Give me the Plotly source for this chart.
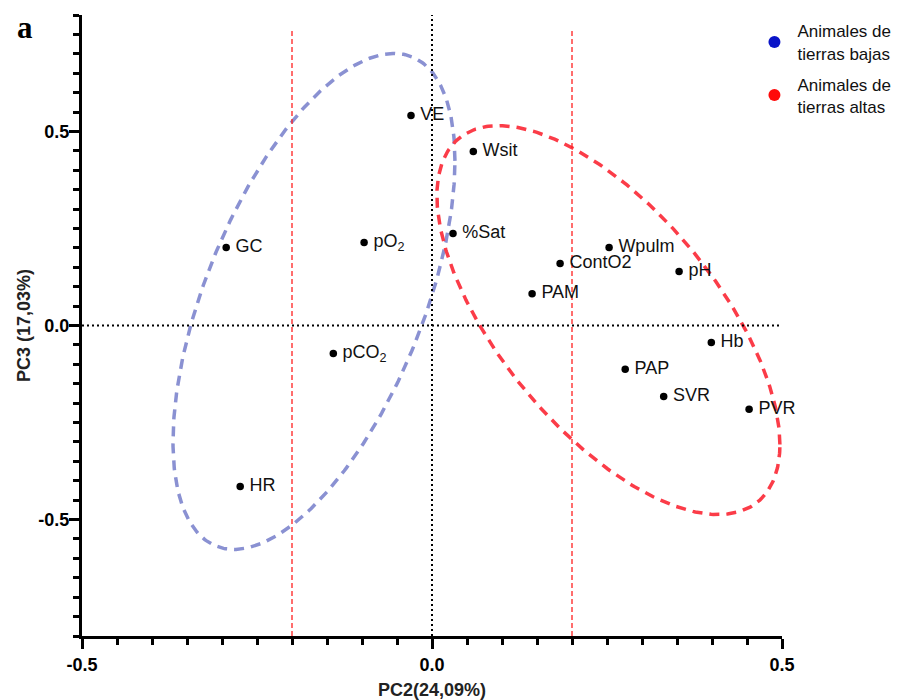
import numpy as np
import plotly.graph_objects as go

# Variable loadings (PC2, PC3)
labels = ["VE", "Wsit", "GC", "pO<sub>2</sub>", "%Sat", "Wpulm", "ContO2", "pH", "PAM",
          "Hb", "pCO<sub>2</sub>", "PAP", "SVR", "PVR", "HR"]
pc2 = [-0.030, 0.059, -0.294, -0.097, 0.030, 0.253, 0.183, 0.353, 0.143,
       0.399, -0.141, 0.276, 0.331, 0.453, -0.274]
pc3 = [0.541, 0.448, 0.201, 0.214, 0.237, 0.201, 0.160, 0.139, 0.082,
       -0.044, -0.072, -0.113, -0.183, -0.216, -0.415]

# Group ellipses: centre, half-extents, correlation
groups = ["Animales de<br>tierras bajas", "Animales de<br>tierras altas"]
group_colors = ["#0a14c8", "#ff0a0a"]
ell_colors = ["#8a91d2", "#fb3c48"]
ell_cx = [-0.1686, 0.252]
ell_cy = [0.062, 0.014]
ell_hx = [0.2014, 0.245]
ell_hy = [0.639, 0.501]
ell_rho = [0.567, -0.640]

cut_x = [-0.2, 0.2]

tick_vals = [-0.5, 0.0, 0.5]
tick_text = ["<b>-0.5</b>", "<b>0.0</b>", "<b>0.5</b>"]

FONT = "Arial, Liberation Sans, sans-serif"

fig = go.Figure()

t = np.linspace(0, 2 * np.pi, 400)
for i in range(2):
    ex = ell_cx[i] + ell_hx[i] * np.cos(t)
    ey = ell_cy[i] + ell_hy[i] * (ell_rho[i] * np.cos(t) + np.sqrt(1 - ell_rho[i] ** 2) * np.sin(t))
    fig.add_trace(go.Scatter(x=ex, y=ey, mode="lines", showlegend=False, hoverinfo="skip",
                             line=dict(color=ell_colors[i], width=3.5, dash="10px,7px")))

# reference lines
fig.add_trace(go.Scatter(x=[-0.5, 0.5], y=[0, 0], mode="lines", showlegend=False, hoverinfo="skip",
                         line=dict(color="black", width=2, dash="2px,3px")))
fig.add_trace(go.Scatter(x=[0, 0], y=[-0.8, 0.8], mode="lines", showlegend=False, hoverinfo="skip",
                         line=dict(color="black", width=2, dash="2px,3px")))
for cx in cut_x:
    fig.add_trace(go.Scatter(x=[cx, cx], y=[-0.8, 0.763], mode="lines", showlegend=False, hoverinfo="skip",
                             line=dict(color="#ff2020", width=1.3, dash="5px,3px")))

fig.add_trace(go.Scatter(x=pc2, y=pc3, mode="markers+text", text=["\u2009" + s for s in labels],
                         textposition="middle right", cliponaxis=False,
                         marker=dict(color="black", size=7.5), showlegend=False,
                         textfont=dict(family=FONT, size=18, color="#111")))

for k, (g, c) in enumerate(zip(groups, group_colors)):
    fig.add_trace(go.Scatter(x=[None], y=[None], mode="markers", name=g, legendgroup=f"g{k}",
                             marker=dict(color=c, size=8)))

axis_common = dict(showline=True, linewidth=3, linecolor="black", ticks="outside", ticklen=10,
                   tickwidth=3, tickcolor="black", showgrid=False, zeroline=False,
                   automargin=False,
                   tickvals=tick_vals, ticktext=tick_text,
                   tickfont=dict(family=FONT, size=18, color="black"),
                   minor=dict(ticks="outside", dtick=0.05, tick0=0, ticklen=6, tickwidth=3,
                              tickcolor="black"))

fig.update_layout(
    width=901, height=700,
    margin=dict(l=82, r=119, t=15, b=64, autoexpand=False),
    plot_bgcolor="white", paper_bgcolor="white",
    xaxis=dict(range=[-0.5, 0.5],
               title=dict(text="<b>PC2(24,09%)</b>", standoff=10,
                          font=dict(family=FONT, size=18, color="#222")),
               **axis_common),
    yaxis=dict(range=[-0.8, 0.8], ticklabelstandoff=-4,
               title=dict(text="<b>PC3 (17,03%)</b>", standoff=4,
                          font=dict(family=FONT, size=18, color="#222")),
               **axis_common),
    legend=dict(xref="container", yref="container", x=0.834, y=0.981, xanchor="left", yanchor="top",
                bgcolor="rgba(0,0,0,0)",
                font=dict(family=FONT, size=17, color="#111"),
                tracegroupgap=6, itemsizing="constant", itemwidth=36),
)
fig.add_annotation(text="<b>a</b>", xref="paper", yref="paper", x=-0.096, y=1.012, xanchor="left",
                   yanchor="top", showarrow=False,
                   font=dict(family="Liberation Serif, Times New Roman, serif", size=31, color="black"))

fig.write_html("out.html")
